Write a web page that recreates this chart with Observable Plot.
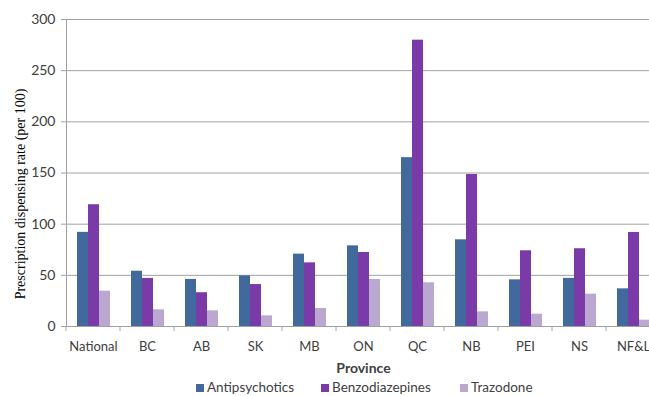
<!DOCTYPE html>
<html><head><meta charset="utf-8">
<script src="https://cdn.jsdelivr.net/npm/d3@7"></script>
<script src="https://cdn.jsdelivr.net/npm/@observablehq/plot@0.6"></script>
<style>
html,body{margin:0;padding:0;background:#fff;overflow:hidden;width:649px;height:396px}
#chart{position:absolute;left:0;top:0}
#legend{position:absolute;left:0;top:379px;width:649px;height:17px;font-family:Lato,sans-serif;font-size:13.5px;color:#404040}
.item{position:absolute;top:0;display:flex;align-items:center;white-space:nowrap;line-height:17px}
.sw{width:8px;height:8px;margin-right:3px;display:inline-block}
</style></head><body><div id="chart"></div><div id="legend"></div>
<script>
const provinces = ["National","BC","AB","SK","MB","ON","QC","NB","PEI","NS","NF&L"];
const drugs = ["Antipsychotics","Benzodiazepines","Trazodone"];
const antipsychotics = [92,54,46,49.5,70.7,78.8,165,84.7,45.6,47,36.8];
const benzodiazepines = [119,47,33,41,62.2,72.3,279.8,148.5,74,76,91.9];
const trazodone = [34.5,16.3,15.3,10.4,17.6,46,42.7,14.3,12,31.6,6.2];
const colors = ["#41699b","#7a3aa8","#baa8d0"];
const yTicks = [0,50,100,150,200,250,300];
const yTitle = "Prescription dispensing rate (per 100)";
const xTitle = "Province";
const series = [antipsychotics, benzodiazepines, trazodone];
const rows = provinces.flatMap((p,i)=>series.map((s,j)=>({province:p, drug:drugs[j], value:s[i]})));

const boundaryTick = (index, scales, values, dim) => {
  const g = d3.create("svg:g");
  const y0 = dim.height - dim.marginBottom;
  g.append("line").attr("x1", dim.marginLeft).attr("x2", dim.marginLeft)
    .attr("y1", y0).attr("y2", y0 + 5).attr("stroke", "#a6a6a6");
  return g.node();
};

const chart = Plot.plot({
  width: 649, height: 378,
  marginTop: 19, marginLeft: 64, marginRight: -12, marginBottom: 52,
  style: {fontFamily: "Lato, sans-serif", fontSize: "14px", color: "#404040", background: "#fff", overflow: "hidden"},
  fx: {domain: provinces, padding: 0},
  x: {domain: drugs, paddingInner: 0, paddingOuter: 0.76, axis: null},
  y: {domain: [0, 300], ticks: yTicks},
  color: {domain: drugs, range: colors},
  marks: [
    Plot.gridY(yTicks, {stroke: "#a0a0a0", strokeOpacity: 1}),
    Plot.barY(rows, {fx: "province", x: "drug", y: "value", fill: "drug"}),
    Plot.ruleY([0], {stroke: "#a0a0a0"}),
    Plot.frame({anchor: "left", facetAnchor: "left", stroke: "#a0a0a0"}),
    boundaryTick,
    Plot.axisY(yTicks, {tickSize: 5, tickPadding: 6, stroke: "#a0a0a0", fontSize: 14, label: null}),
    Plot.text([yTitle], {text: d => d, facet: "super", frameAnchor: "left", rotate: -90, dx: -46, dy: 21, fontFamily: "Liberation Serif", fontSize: 14, fill: "#000", textAnchor: "middle"}),
    Plot.axisFx({anchor: "bottom", tickSize: 0, tickPadding: 15, label: null, fontSize: 13}),
    Plot.text([xTitle], {text: d => d, facet: "super", frameAnchor: "bottom", dy: 46, fontWeight: "bold", fontSize: 14, fill: "#404040", textAnchor: "middle"})
  ]
});
document.getElementById("chart").append(chart);

const legend = document.getElementById("legend");
const lefts = [196, 321, 460];
drugs.forEach((d, i) => {
  const it = document.createElement("div");
  it.className = "item";
  it.style.left = lefts[i] + "px";
  const sw = document.createElement("span");
  sw.className = "sw";
  sw.style.background = colors[i];
  it.append(sw, document.createTextNode(d));
  legend.append(it);
});
</script>
</body></html>
